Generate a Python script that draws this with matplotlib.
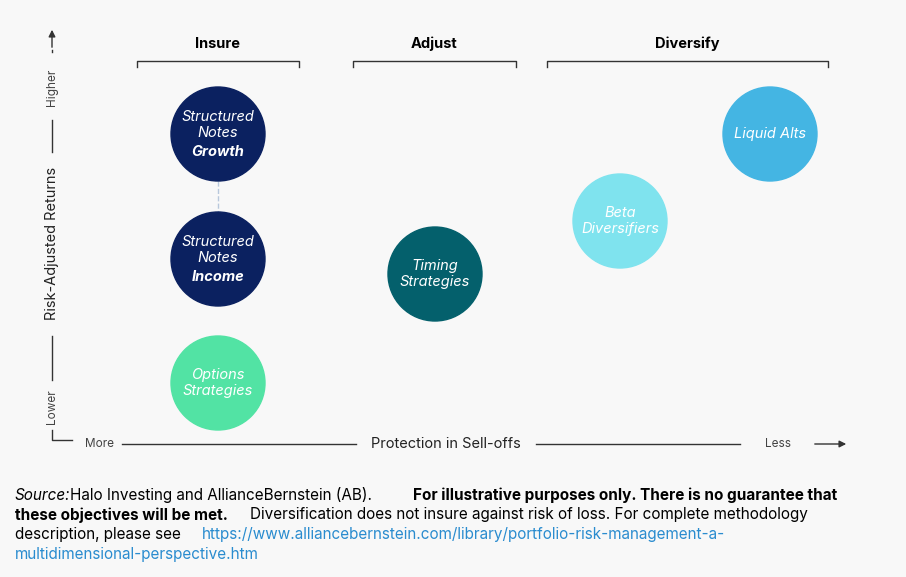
import matplotlib.pyplot as plt
from matplotlib.patches import Circle

plt.rcParams['font.family'] = ['Inter', 'DejaVu Sans']

# strategy positions: protection (left=more) vs risk-adjusted returns
names = ['Structured\nNotes', 'Structured\nNotes', 'Options\nStrategies',
         'Timing\nStrategies', 'Beta\nDiversifiers', 'Liquid Alts']
subs = ['Growth', 'Income', '', '', '', '']
protection = [218, 218, 218, 435, 620, 770]
returns = [134, 259, 383, 274, 221, 134]
colors = ['#0b2160', '#0b2160', '#52e3a4', '#04606c', '#7fe3ee', '#44b5e3']
groups = ['Insure', 'Adjust', 'Diversify']
group_span = [(137, 299), (353, 516), (547, 828)]

fig = plt.figure(figsize=(9.06, 5.77), dpi=100)
fig.patch.set_facecolor('#f8f8f8')
ax = fig.add_axes([0, 0, 1, 1])
ax.set_xlim(0, 906)
ax.set_ylim(577, 0)
ax.axis('off')
ax.set_facecolor('#f8f8f8')

lc = '#333333'
# dashed connector
ax.plot([218, 218], [181, 212], color='#b8c8dc', lw=1, ls='--')

for n, s, x, y, c in zip(names, subs, protection, returns, colors):
    ax.add_patch(Circle((x, y), 47, color=c, zorder=3))
    if s:
        ax.text(x, y - 9, n, ha='center', va='center', color='white', style='italic',
                fontsize=10.5, linespacing=1.25, zorder=4)
        ax.text(x, y + 18, s, ha='center', va='center', color='white', style='italic',
                fontweight='bold', fontsize=10.5, zorder=4)
    else:
        ax.text(x, y, n, ha='center', va='center', color='white', style='italic',
                fontsize=10.5, linespacing=1.25, zorder=4)

for g, (a, b) in zip(groups, group_span):
    ax.plot([a, a, b, b], [67, 61, 61, 67], color=lc, lw=1)
    ax.text((a + b) / 2, 44, g, ha='center', va='center', fontweight='bold', fontsize=10.5)

# y axis
ax.annotate('', xy=(52, 27), xytext=(52, 50), arrowprops=dict(arrowstyle='-|>', color=lc, lw=1))
ax.plot([52, 52], [50, 52], color=lc, lw=1)
ax.plot([52, 52], [120, 152], color=lc, lw=1)
ax.plot([52, 52], [336, 380], color=lc, lw=1)
ax.plot([52, 52, 72], [430, 440, 440], color=lc, lw=1)
ax.text(52, 87, 'Higher', rotation=90, ha='center', va='center', fontsize=8.5, color='#444444')
ax.text(52, 407, 'Lower', rotation=90, ha='center', va='center', fontsize=8.5, color='#444444')
ax.text(52, 243, 'Risk-Adjusted Returns', rotation=90, ha='center', va='center', fontsize=10.5,
        color='#222222')

# x axis
ax.text(100, 444, 'More', ha='center', va='center', fontsize=8.5, color='#444444')
ax.plot([122, 356], [444, 444], color=lc, lw=1)
ax.text(446, 444, 'Protection in Sell-offs', ha='center', va='center', fontsize=10.5, color='#222222')
ax.plot([536, 740], [444, 444], color=lc, lw=1)
ax.text(778, 444, 'Less', ha='center', va='center', fontsize=8.5, color='#444444')
ax.annotate('', xy=(849, 444), xytext=(812, 444), arrowprops=dict(arrowstyle='-|>', color=lc, lw=1))

# footnote
fs = 11
ax.text(15, 495, 'Source:', style='italic', fontsize=fs, va='center')
ax.text(70, 495, 'Halo Investing and AllianceBernstein (AB).', fontsize=fs, va='center')
ax.text(413, 495, 'For illustrative purposes only. There is no guarantee that', fontweight='bold',
        fontsize=fs, va='center')
ax.text(15, 515, 'these objectives will be met.', fontweight='bold', fontsize=fs, va='center')
ax.text(250, 515, 'Diversification does not insure against risk of loss. For complete methodology',
        fontsize=fs, va='center')
ax.text(15, 535, 'description, please see', fontsize=fs, va='center')
ax.text(202, 535, 'https://www.alliancebernstein.com/library/portfolio-risk-management-a-',
        fontsize=fs, va='center', color='#2a8ccf')
ax.text(15, 554, 'multidimensional-perspective.htm', fontsize=fs, va='center', color='#2a8ccf')

fig.savefig('out.png', dpi=100, facecolor=fig.get_facecolor())
